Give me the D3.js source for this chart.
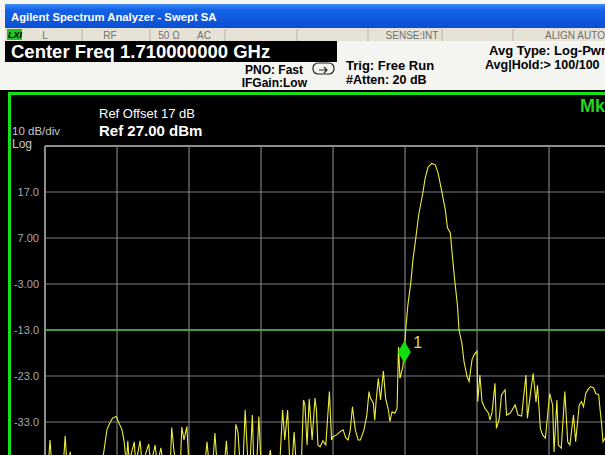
<!DOCTYPE html>
<html>
<head>
<meta charset="utf-8">
<script src="https://cdn.jsdelivr.net/npm/d3@7"></script>
<style>
  body { margin: 0; background: #000; overflow: hidden; }
  text { font-family: "Liberation Sans", Arial, sans-serif; }
</style>
</head>
<body>
<script>
// analyzer settings shown on screen
const refLevel = 27;       // dBm, top graticule line
const dbPerDiv = 10;
const numDivs = 10;
const sweepPoints = 1000;  // 100 points per division
const displayLine = -13.0;
const markerBin = 499;

const yTickValues = [17, 7, -3, -13, -23, -33];
const yTickLabels = ["17.0", "7.00", "-3.00", "-13.0", "-23.0", "-33.0"];

const statusCells = ["L", "RF", "50 \u03a9", "AC", "SENSE:INT", "ALIGN AUTO"];

// trace: [sweep point, dBm]
const trace = [
  [0,-43.5],[4,-43.5],[7,-36.9],[10,-43.5],[25,-43.5],[28,-36.0],[31,-43.5],[35,-39.5],[38,-43.5],
  [78,-43.5],[81,-40.2],[86,-34.7],[90,-33.2],[94,-32.1],[99,-31.8],[101,-32.6],[107,-34.7],[110,-37.3],
  [113,-42.3],[115,-37.1],[117,-41.7],[124,-37.3],[126,-42.3],[132,-37.1],[135,-42.3],[144,-37.8],
  [147,-42.3],[153,-38.0],[156,-42.3],[161,-38.6],[164,-42.3],[174,-42.3],[176,-34.2],[179,-39.1],
  [182,-42.3],[188,-42.3],[190,-34.1],[193,-36.9],[197,-34.0],[200,-42.3],[222,-42.3],[225,-37.3],
  [228,-42.3],[233,-42.3],[236,-35.4],[239,-42.3],[249,-42.3],[252,-37.1],[254,-42.3],[263,-42.3],
  [265,-33.5],[268,-35.2],[271,-42.3],[275,-42.3],[278,-30.4],[282,-42.3],[285,-41.3],[288,-31.5],
  [290,-42.3],[294,-42.3],[297,-31.8],[300,-42.3],[310,-42.3],[313,-39.1],[315,-42.3],[326,-42.3],
  [330,-30.4],[333,-36.9],[337,-30.4],[340,-42.3],[343,-42.3],[346,-35.2],[349,-42.3],[356,-42.3],
  [359,-28.2],[361,-29.3],[364,-38.0],[367,-28.0],[371,-36.9],[375,-27.8],[377,-30.4],[379,-38.0],
  [382,-38.4],[386,-37.1],[390,-38.0],[395,-26.4],[398,-36.9],[400,-36.2],[405,-35.8],[410,-35.1],
  [414,-34.7],[418,-36.5],[421,-36.9],[424,-34.7],[427,-29.7],[431,-34.7],[435,-36.9],[438,-36.9],
  [443,-34.7],[447,-31.5],[450,-26.4],[452,-27.8],[456,-28.9],[458,-32.6],[460,-28.2],[463,-23.5],
  [466,-28.2],[470,-21.9],[473,-27.8],[477,-30.4],[479,-32.9],[482,-30.8],[486,-31.1],[489,-30.0],
  [491,-16.7],[493,-23.5],[497,-21.0],[499,-17.8],[501,-12.8],[504,-7.6],[508,-2.8],[511,2.2],
  [515,7.0],[519,12.0],[525,17.0],[528,20.0],[532,22.4],[537,23.2],[542,22.9],[546,21.1],[551,17.2],
  [556,13.1],[559,9.2],[563,8.1],[565,4.4],[569,-2.1],[573,-7.9],[575,-13.0],[579,-15.9],[582,-19.9],
  [586,-23.0],[589,-24.2],[593,-19.5],[596,-18.4],[600,-17.6],[601,-28.6],[604,-22.8],[607,-28.6],
  [611,-30.0],[616,-31.1],[618,-32.6],[621,-30.8],[625,-24.6],[627,-34.4],[631,-32.2],[634,-27.1],
  [639,-26.0],[641,-31.5],[646,-31.1],[653,-29.3],[657,-31.5],[662,-31.7],[668,-22.8],[670,-32.2],
  [674,-27.1],[678,-22.4],[682,-28.7],[684,-25.0],[688,-34.4],[691,-35.8],[695,-36.5],[701,-26.8],
  [705,-29.3],[707,-39.5],[711,-28.2],[713,-38.0],[717,-38.7],[722,-26.4],[726,-37.3],[729,-38.0],
  [734,-31.5],[737,-37.3],[742,-29.3],[745,-28.6],[748,-29.7],[751,-26.8],[755,-25.7],[758,-25.3],
  [762,-25.6],[765,-26.8],[769,-27.1],[771,-30.4],[773,-33.3],[775,-37.3],[778,-36.5],[788,-38.0]
];

const W = 605, H = 455;

const svg = d3.select('body')
  .append('svg')
  .attr('width', W)
  .attr('height', H)

const gLeft = 45, gTop = 146, divW = 72, divH = 46;

const xScale = d3.scaleLinear()
  .domain([0, sweepPoints])
  .range([gLeft, gLeft + divW * numDivs])

const yScale = d3.scaleLinear()
  .domain([refLevel, refLevel - dbPerDiv * numDivs])
  .range([gTop, gTop + divH * numDivs])

// ---------- window chrome ----------
svg.append('rect').attr('width', W).attr('height', H).attr('fill', '#000')
svg.append('rect').attr('x', 0).attr('y', 0).attr('width', W).attr('height', 90).attr('fill', '#f4f4f0')

const grad = svg.append('defs').append('linearGradient')
  .attr('id', 'titleGrad').attr('x1', 0).attr('y1', 0).attr('x2', 0).attr('y2', 1)
grad.append('stop').attr('offset', '0%').attr('stop-color', '#3d8cf5')
grad.append('stop').attr('offset', '25%').attr('stop-color', '#1462e6')
grad.append('stop').attr('offset', '100%').attr('stop-color', '#0a4fd2')

svg.append('rect').attr('x', 5).attr('y', 4).attr('width', W - 5).attr('height', 24).attr('fill', 'url(#titleGrad)')
svg.append('text')
  .text('Agilent Spectrum Analyzer - Swept SA')
  .attr('x', 11).attr('y', 21)
  .attr('fill', '#fff')
  .style('font-size', '11.3px')
  .style('font-weight', 'bold')

// status row
svg.append('rect').attr('x', 5).attr('y', 28).attr('width', W - 5).attr('height', 13).attr('fill', '#e6e3d6')
svg.append('rect').attr('x', 7).attr('y', 29).attr('width', 15).attr('height', 11).attr('fill', '#22c422')
svg.append('text').text('LXI').attr('x', 8).attr('y', 38)
  .style('font-size', '9px').style('font-weight', 'bold').style('font-style', 'italic').attr('fill', '#000')

const cellPos = [45, 110, 169, 204, 412, 575]
svg.selectAll('.status')
  .data(statusCells)
  .enter()
  .append('text')
  .attr('class', 'status')
  .text(d => d)
  .attr('x', (d, i) => cellPos[i])
  .attr('y', 38.5)
  .attr('text-anchor', 'middle')
  .attr('fill', '#707070')
  .style('font-size', '10px')

const seps = [82, 150, 225, 297, 368, 442, 513]
svg.selectAll('.sep')
  .data(seps)
  .enter()
  .append('line')
  .attr('x1', d => d).attr('x2', d => d)
  .attr('y1', 29).attr('y2', 41)
  .attr('stroke', '#b8b5a8')

// center freq bar
svg.append('rect').attr('x', 5).attr('y', 41).attr('width', 332).attr('height', 21).attr('fill', '#000')
svg.append('text')
  .text('Center Freq 1.710000000 GHz')
  .attr('x', 11).attr('y', 58)
  .attr('fill', '#fff')
  .style('font-size', '18.5px')
  .style('font-weight', 'bold')

const infoText = [
  ['PNO: Fast', 303, 74, 'end', 12],
  ['IFGain:Low', 307, 87, 'end', 12],
  ['Trig: Free Run', 346, 70, 'start', 13],
  ['#Atten: 20 dB', 346, 84, 'start', 12.5],
  ['Avg Type: Log-Pwr', 489, 55, 'start', 13],
  ['Avg|Hold:> 100/100', 485, 69, 'start', 12.5]
]
infoText.forEach(t => {
  svg.append('text')
    .text(t[0])
    .attr('x', t[1]).attr('y', t[2])
    .attr('text-anchor', t[3])
    .attr('fill', '#000')
    .style('font-size', t[4] + 'px')
    .style('font-weight', 'bold')
})

// trigger icon
svg.append('rect').attr('x', 313).attr('y', 63).attr('width', 21).attr('height', 11).attr('rx', 5)
  .attr('fill', 'none').attr('stroke', '#222').attr('stroke-width', 1.2)
svg.append('path').attr('d', 'M319,70 L326,70 M324,67 L327,70 L324,73').attr('fill', 'none').attr('stroke', '#222').attr('stroke-width', 1.2)

// green frame of the active window
svg.append('line').attr('x1', 8).attr('x2', W).attr('y1', 93.5).attr('y2', 93.5).attr('stroke', '#18e018').attr('stroke-width', 3)
svg.append('line').attr('x1', 9.5).attr('x2', 9.5).attr('y1', 92).attr('y2', H).attr('stroke', '#18e018').attr('stroke-width', 3)

svg.append('text').text('Mk')
  .attr('x', 580).attr('y', 112)
  .attr('fill', '#22d622')
  .style('font-size', '18px')
  .style('font-weight', 'bold')

svg.append('text').text('Ref Offset 17 dB')
  .attr('x', 99).attr('y', 118)
  .attr('fill', '#fff')
  .style('font-size', '13px')
svg.append('text').text('Ref 27.00 dBm')
  .attr('x', 99).attr('y', 136)
  .attr('fill', '#fff')
  .style('font-size', '15px')
  .style('font-weight', 'bold')
svg.append('text').text('10 dB/div')
  .attr('x', 12).attr('y', 135)
  .attr('fill', '#c8c8c8')
  .style('font-size', '11.5px')
svg.append('text').text('Log')
  .attr('x', 12).attr('y', 148)
  .attr('fill', '#c8c8c8')
  .style('font-size', '12px')

// ---------- graticule ----------
const grid = svg.append('g')
const hLines = d3.range(numDivs + 1).map(i => refLevel - i * dbPerDiv)
const vLines = d3.range(numDivs + 1).map(i => i * sweepPoints / numDivs)

grid.selectAll('.h')
  .data(hLines)
  .enter()
  .append('line')
  .attr('x1', xScale(0)).attr('x2', xScale(sweepPoints))
  .attr('y1', d => yScale(d)).attr('y2', d => yScale(d))
  .attr('stroke', (d, i) => i === 0 ? '#8e8e8e' : '#7c7c7c')
  .attr('stroke-width', (d, i) => i === 0 ? 2 : 1.2)

grid.selectAll('.v')
  .data(vLines)
  .enter()
  .append('line')
  .attr('x1', d => xScale(d)).attr('x2', d => xScale(d))
  .attr('y1', yScale(refLevel)).attr('y2', yScale(refLevel - dbPerDiv * numDivs))
  .attr('stroke', (d, i) => i === 0 ? '#8e8e8e' : '#7c7c7c')
  .attr('stroke-width', (d, i) => i === 0 ? 2 : 1.2)

const yAxis = d3.axisLeft(yScale)
  .tickValues(yTickValues)
  .tickFormat((d, i) => yTickLabels[i])
  .tickSize(0)
  .tickPadding(6)

svg.append('g')
  .attr('transform', `translate(${gLeft},0)`)
  .call(yAxis)
  .call(g => g.select('.domain').remove())
  .call(g => g.selectAll('text')
    .attr('fill', '#a8a8a8')
    .style('font-size', '11px')
    .style('font-family', '"Liberation Sans", Arial, sans-serif'))

// display line
svg.append('line')
  .attr('x1', xScale(0)).attr('x2', xScale(sweepPoints))
  .attr('y1', yScale(displayLine)).attr('y2', yScale(displayLine))
  .attr('stroke', '#3fbf3f')
  .attr('stroke-width', 1.5)

// ---------- trace ----------
svg.append('clipPath').attr('id', 'plotClip')
  .append('rect')
  .attr('x', gLeft).attr('y', gTop)
  .attr('width', divW * numDivs).attr('height', divH * numDivs)

const line = d3.line()
  .x(d => xScale(d[0]))
  .y(d => yScale(d[1]))

svg.append('path')
  .datum(trace)
  .attr('d', line)
  .attr('clip-path', 'url(#plotClip)')
  .attr('fill', 'none')
  .attr('stroke', '#ecec3c')
  .attr('stroke-width', 1.1)

// marker 1
const mk = trace.find(d => d[0] === markerBin)
const mx = xScale(mk[0]), my = yScale(mk[1])
svg.append('path')
  .attr('d', `M${mx},${my - 11} L${mx + 6.5},${my} L${mx},${my + 11} L${mx - 6.5},${my} Z`)
  .attr('fill', '#10e010')
svg.append('text').text('1')
  .attr('x', mx + 9).attr('y', my - 4)
  .attr('fill', '#d8d860')
  .style('font-size', '16px')
</script>
</body>
</html>
